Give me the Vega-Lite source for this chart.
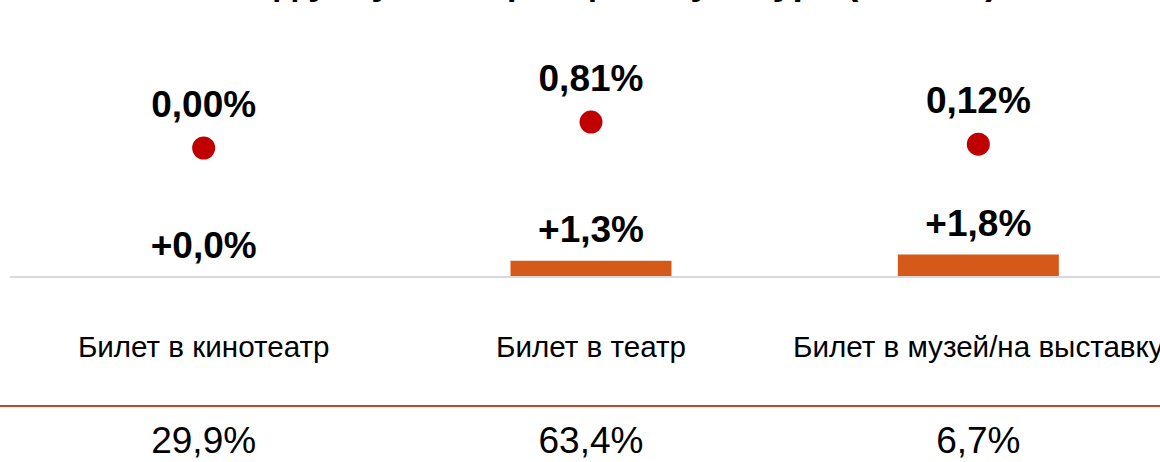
{
  "$schema": "https://vega.github.io/schema/vega-lite/v6.json",
  "width": 1162,
  "height": 462,
  "autosize": "none",
  "padding": {"left": 10, "top": 0, "right": 0, "bottom": 0},
  "background": "white",
  "config": {"view": {"stroke": null}, "font": "Liberation Sans"},
  "title": {
    "text": "Вклад услуг в инфляцию: культура (п.п., г/г)",
    "font": "Liberation Sans",
    "fontSize": 37,
    "fontWeight": "bold",
    "color": "#000000",
    "anchor": "middle",
    "baseline": "alphabetic",
    "offset": 0,
    "dx": 0,
    "dy": 31
  },
  "data": {
    "values": [
      {"category": "Билет в кинотеатр", "dot": 0.00, "dotLabel": "0,00%", "bar": 0.0, "barLabel": "+0,0%", "shareLabel": "29,9%"},
      {"category": "Билет в театр", "dot": 0.81, "dotLabel": "0,81%", "bar": 1.3, "barLabel": "+1,3%", "shareLabel": "63,4%"},
      {"category": "Билет в музей/на выставку", "dot": 0.12, "dotLabel": "0,12%", "bar": 1.8, "barLabel": "+1,8%", "shareLabel": "6,7%"}
    ]
  },
  "encoding": {
    "x": {
      "field": "category",
      "type": "nominal",
      "sort": null,
      "scale": {"paddingInner": 0, "paddingOuter": 0},
      "axis": null
    }
  },
  "layer": [
    {
      "layer": [
        {
          "mark": {"type": "bar", "color": "#D55A1A", "size": 161},
          "encoding": {
            "y": {"field": "bar", "type": "quantitative", "scale": {"domain": [-14.8, 22.16], "zero": false, "nice": false}, "axis": null}
          }
        },
        {
          "mark": {"type": "rule", "color": "#d9d9d9", "strokeWidth": 2},
          "encoding": {
            "x": {"value": 0},
            "x2": {"value": 1162},
            "y": {"datum": 0}
          }
        },
        {
          "mark": {"type": "text", "fontSize": 37, "fontWeight": "bold", "color": "#000000", "baseline": "alphabetic", "dy": -19},
          "encoding": {
            "y": {"field": "bar", "type": "quantitative"},
            "text": {"field": "barLabel"}
          }
        },
        {
          "mark": {"type": "text", "fontSize": 29.6, "color": "#000000", "baseline": "alphabetic"},
          "encoding": {
            "y": {"datum": -6.4},
            "text": {"field": "category"}
          }
        },
        {
          "mark": {"type": "rule", "color": "#C3482A", "strokeWidth": 2},
          "encoding": {
            "x": {"value": -10},
            "x2": {"value": 1162},
            "y": {"datum": -10.32}
          }
        },
        {
          "mark": {"type": "text", "fontSize": 37, "color": "#000000", "baseline": "alphabetic"},
          "encoding": {
            "y": {"datum": -14.08},
            "text": {"field": "shareLabel"}
          }
        }
      ]
    },
    {
      "layer": [
        {
          "mark": {"type": "point", "filled": true, "shape": "circle", "color": "#C00000", "opacity": 1, "size": 529},
          "encoding": {
            "y": {"field": "dot", "type": "quantitative", "scale": {"domain": [-9.8125, 4.625], "zero": false, "nice": false}, "axis": null}
          }
        },
        {
          "mark": {"type": "text", "fontSize": 37, "fontWeight": "bold", "color": "#000000", "baseline": "alphabetic", "dy": -31},
          "encoding": {
            "y": {"field": "dot", "type": "quantitative"},
            "text": {"field": "dotLabel"}
          }
        }
      ]
    }
  ],
  "resolve": {"scale": {"y": "independent"}}
}
